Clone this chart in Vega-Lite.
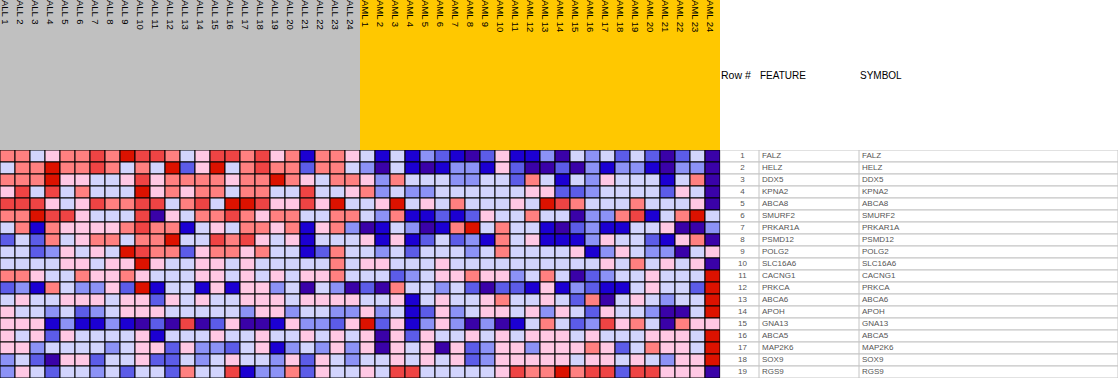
{
"$schema": "https://vega.github.io/schema/vega-lite/v6.json",
"padding": 0,
"background": "white",
"config": {"view": {"stroke": null}, "concat": {"spacing": 0}},
"resolve": {"scale": {"color": "independent", "x": "independent", "y": "independent"}},
"datasets": {
"samples": [
{"s":1,"n":"ALL 1","k":"ALL"},{"s":2,"n":"ALL 2","k":"ALL"},{"s":3,"n":"ALL 3","k":"ALL"},{"s":4,"n":"ALL 4","k":"ALL"},{"s":5,"n":"ALL 5","k":"ALL"},{"s":6,"n":"ALL 6","k":"ALL"},{"s":7,"n":"ALL 7","k":"ALL"},{"s":8,"n":"ALL 8","k":"ALL"},{"s":9,"n":"ALL 9","k":"ALL"},{"s":10,"n":"ALL 10","k":"ALL"},{"s":11,"n":"ALL 11","k":"ALL"},{"s":12,"n":"ALL 12","k":"ALL"},{"s":13,"n":"ALL 13","k":"ALL"},{"s":14,"n":"ALL 14","k":"ALL"},{"s":15,"n":"ALL 15","k":"ALL"},{"s":16,"n":"ALL 16","k":"ALL"},{"s":17,"n":"ALL 17","k":"ALL"},{"s":18,"n":"ALL 18","k":"ALL"},{"s":19,"n":"ALL 19","k":"ALL"},{"s":20,"n":"ALL 20","k":"ALL"},{"s":21,"n":"ALL 21","k":"ALL"},{"s":22,"n":"ALL 22","k":"ALL"},{"s":23,"n":"ALL 23","k":"ALL"},{"s":24,"n":"ALL 24","k":"ALL"},
{"s":25,"n":"AML 1","k":"AML"},{"s":26,"n":"AML 2","k":"AML"},{"s":27,"n":"AML 3","k":"AML"},{"s":28,"n":"AML 4","k":"AML"},{"s":29,"n":"AML 5","k":"AML"},{"s":30,"n":"AML 6","k":"AML"},{"s":31,"n":"AML 7","k":"AML"},{"s":32,"n":"AML 8","k":"AML"},{"s":33,"n":"AML 9","k":"AML"},{"s":34,"n":"AML 10","k":"AML"},{"s":35,"n":"AML 11","k":"AML"},{"s":36,"n":"AML 12","k":"AML"},{"s":37,"n":"AML 13","k":"AML"},{"s":38,"n":"AML 14","k":"AML"},{"s":39,"n":"AML 15","k":"AML"},{"s":40,"n":"AML 16","k":"AML"},{"s":41,"n":"AML 17","k":"AML"},{"s":42,"n":"AML 18","k":"AML"},{"s":43,"n":"AML 19","k":"AML"},{"s":44,"n":"AML 20","k":"AML"},{"s":45,"n":"AML 21","k":"AML"},{"s":46,"n":"AML 22","k":"AML"},{"s":47,"n":"AML 23","k":"AML"},{"s":48,"n":"AML 24","k":"AML"}
],
"genes": [
{"r":1,"f":"FALZ","y":"FALZ"},{"r":2,"f":"HELZ","y":"HELZ"},{"r":3,"f":"DDX5","y":"DDX5"},{"r":4,"f":"KPNA2","y":"KPNA2"},{"r":5,"f":"ABCA8","y":"ABCA8"},{"r":6,"f":"SMURF2","y":"SMURF2"},{"r":7,"f":"PRKAR1A","y":"PRKAR1A"},{"r":8,"f":"PSMD12","y":"PSMD12"},{"r":9,"f":"POLG2","y":"POLG2"},{"r":10,"f":"SLC16A6","y":"SLC16A6"},{"r":11,"f":"CACNG1","y":"CACNG1"},{"r":12,"f":"PRKCA","y":"PRKCA"},{"r":13,"f":"ABCA6","y":"ABCA6"},{"r":14,"f":"APOH","y":"APOH"},{"r":15,"f":"GNA13","y":"GNA13"},{"r":16,"f":"ABCA5","y":"ABCA5"},{"r":17,"f":"MAP2K6","y":"MAP2K6"},{"r":18,"f":"SOX9","y":"SOX9"},{"r":19,"f":"RGS9","y":"RGS9"}
],
"cells": [
{"s":1,"r":1,"v":2},{"s":2,"r":1,"v":2},{"s":3,"r":1,"v":0},{"s":4,"r":1,"v":1},{"s":5,"r":1,"v":2},{"s":6,"r":1,"v":2},{"s":7,"r":1,"v":3},{"s":8,"r":1,"v":2},{"s":9,"r":1,"v":4},{"s":10,"r":1,"v":3},{"s":11,"r":1,"v":3},{"s":12,"r":1,"v":2},{"s":13,"r":1,"v":0},{"s":14,"r":1,"v":1},{"s":15,"r":1,"v":3},{"s":16,"r":1,"v":3},{"s":17,"r":1,"v":2},{"s":18,"r":1,"v":3},{"s":19,"r":1,"v":1},{"s":20,"r":1,"v":2},{"s":21,"r":1,"v":-3},{"s":22,"r":1,"v":2},{"s":23,"r":1,"v":2},{"s":24,"r":1,"v":1},{"s":25,"r":1,"v":0},{"s":26,"r":1,"v":-3},{"s":27,"r":1,"v":0},{"s":28,"r":1,"v":-3},{"s":29,"r":1,"v":-1},{"s":30,"r":1,"v":-2},{"s":31,"r":1,"v":-3},{"s":32,"r":1,"v":-4},{"s":33,"r":1,"v":-2},{"s":34,"r":1,"v":1},{"s":35,"r":1,"v":-3},{"s":36,"r":1,"v":-3},{"s":37,"r":1,"v":-1},{"s":38,"r":1,"v":-4},{"s":39,"r":1,"v":0},{"s":40,"r":1,"v":-1},{"s":41,"r":1,"v":0},{"s":42,"r":1,"v":-2},{"s":43,"r":1,"v":0},{"s":44,"r":1,"v":-2},{"s":45,"r":1,"v":-4},{"s":46,"r":1,"v":-2},{"s":47,"r":1,"v":0},{"s":48,"r":1,"v":-4},
{"s":1,"r":2,"v":0},{"s":2,"r":2,"v":2},{"s":3,"r":2,"v":2},{"s":4,"r":2,"v":4},{"s":5,"r":2,"v":2},{"s":6,"r":2,"v":2},{"s":7,"r":2,"v":3},{"s":8,"r":2,"v":2},{"s":9,"r":2,"v":0},{"s":10,"r":2,"v":2},{"s":11,"r":2,"v":0},{"s":12,"r":2,"v":4},{"s":13,"r":2,"v":-2},{"s":14,"r":2,"v":1},{"s":15,"r":2,"v":4},{"s":16,"r":2,"v":0},{"s":17,"r":2,"v":2},{"s":18,"r":2,"v":3},{"s":19,"r":2,"v":2},{"s":20,"r":2,"v":2},{"s":21,"r":2,"v":-2},{"s":22,"r":2,"v":2},{"s":23,"r":2,"v":2},{"s":24,"r":2,"v":0},{"s":25,"r":2,"v":-1},{"s":26,"r":2,"v":-4},{"s":27,"r":2,"v":0},{"s":28,"r":2,"v":-3},{"s":29,"r":2,"v":-4},{"s":30,"r":2,"v":-3},{"s":31,"r":2,"v":-1},{"s":32,"r":2,"v":-1},{"s":33,"r":2,"v":-3},{"s":34,"r":2,"v":1},{"s":35,"r":2,"v":-2},{"s":36,"r":2,"v":-4},{"s":37,"r":2,"v":-4},{"s":38,"r":2,"v":-2},{"s":39,"r":2,"v":-4},{"s":40,"r":2,"v":-1},{"s":41,"r":2,"v":-3},{"s":42,"r":2,"v":-1},{"s":43,"r":2,"v":-1},{"s":44,"r":2,"v":-3},{"s":45,"r":2,"v":-4},{"s":46,"r":2,"v":-1},{"s":47,"r":2,"v":-1},{"s":48,"r":2,"v":-4},
{"s":1,"r":3,"v":2},{"s":2,"r":3,"v":2},{"s":3,"r":3,"v":2},{"s":4,"r":3,"v":4},{"s":5,"r":3,"v":1},{"s":6,"r":3,"v":1},{"s":7,"r":3,"v":0},{"s":8,"r":3,"v":0},{"s":9,"r":3,"v":1},{"s":10,"r":3,"v":3},{"s":11,"r":3,"v":1},{"s":12,"r":3,"v":2},{"s":13,"r":3,"v":2},{"s":14,"r":3,"v":2},{"s":15,"r":3,"v":2},{"s":16,"r":3,"v":1},{"s":17,"r":3,"v":2},{"s":18,"r":3,"v":2},{"s":19,"r":3,"v":4},{"s":20,"r":3,"v":2},{"s":21,"r":3,"v":1},{"s":22,"r":3,"v":0},{"s":23,"r":3,"v":2},{"s":24,"r":3,"v":2},{"s":25,"r":3,"v":1},{"s":26,"r":3,"v":-1},{"s":27,"r":3,"v":2},{"s":28,"r":3,"v":0},{"s":29,"r":3,"v":0},{"s":30,"r":3,"v":0},{"s":31,"r":3,"v":-1},{"s":32,"r":3,"v":-1},{"s":33,"r":3,"v":0},{"s":34,"r":3,"v":0},{"s":35,"r":3,"v":-2},{"s":36,"r":3,"v":2},{"s":37,"r":3,"v":0},{"s":38,"r":3,"v":-3},{"s":39,"r":3,"v":0},{"s":40,"r":3,"v":-1},{"s":41,"r":3,"v":1},{"s":42,"r":3,"v":0},{"s":43,"r":3,"v":0},{"s":44,"r":3,"v":0},{"s":45,"r":3,"v":-3},{"s":46,"r":3,"v":0},{"s":47,"r":3,"v":2},{"s":48,"r":3,"v":-4},
{"s":1,"r":4,"v":1},{"s":2,"r":4,"v":3},{"s":3,"r":4,"v":0},{"s":4,"r":4,"v":3},{"s":5,"r":4,"v":0},{"s":6,"r":4,"v":2},{"s":7,"r":4,"v":0},{"s":8,"r":4,"v":0},{"s":9,"r":4,"v":0},{"s":10,"r":4,"v":4},{"s":11,"r":4,"v":1},{"s":12,"r":4,"v":2},{"s":13,"r":4,"v":1},{"s":14,"r":4,"v":2},{"s":15,"r":4,"v":2},{"s":16,"r":4,"v":0},{"s":17,"r":4,"v":2},{"s":18,"r":4,"v":2},{"s":19,"r":4,"v":0},{"s":20,"r":4,"v":0},{"s":21,"r":4,"v":3},{"s":22,"r":4,"v":0},{"s":23,"r":4,"v":0},{"s":24,"r":4,"v":1},{"s":25,"r":4,"v":2},{"s":26,"r":4,"v":-1},{"s":27,"r":4,"v":0},{"s":28,"r":4,"v":-1},{"s":29,"r":4,"v":-1},{"s":30,"r":4,"v":0},{"s":31,"r":4,"v":0},{"s":32,"r":4,"v":0},{"s":33,"r":4,"v":0},{"s":34,"r":4,"v":0},{"s":35,"r":4,"v":0},{"s":36,"r":4,"v":1},{"s":37,"r":4,"v":1},{"s":38,"r":4,"v":-2},{"s":39,"r":4,"v":-2},{"s":40,"r":4,"v":-1},{"s":41,"r":4,"v":0},{"s":42,"r":4,"v":0},{"s":43,"r":4,"v":0},{"s":44,"r":4,"v":0},{"s":45,"r":4,"v":-2},{"s":46,"r":4,"v":1},{"s":47,"r":4,"v":0},{"s":48,"r":4,"v":-4},
{"s":1,"r":5,"v":3},{"s":2,"r":5,"v":3},{"s":3,"r":5,"v":3},{"s":4,"r":5,"v":1},{"s":5,"r":5,"v":0},{"s":6,"r":5,"v":1},{"s":7,"r":5,"v":3},{"s":8,"r":5,"v":2},{"s":9,"r":5,"v":2},{"s":10,"r":5,"v":3},{"s":11,"r":5,"v":3},{"s":12,"r":5,"v":0},{"s":13,"r":5,"v":2},{"s":14,"r":5,"v":3},{"s":15,"r":5,"v":0},{"s":16,"r":5,"v":4},{"s":17,"r":5,"v":4},{"s":18,"r":5,"v":3},{"s":19,"r":5,"v":1},{"s":20,"r":5,"v":1},{"s":21,"r":5,"v":3},{"s":22,"r":5,"v":1},{"s":23,"r":5,"v":4},{"s":24,"r":5,"v":0},{"s":25,"r":5,"v":0},{"s":26,"r":5,"v":1},{"s":27,"r":5,"v":4},{"s":28,"r":5,"v":0},{"s":29,"r":5,"v":1},{"s":30,"r":5,"v":0},{"s":31,"r":5,"v":2},{"s":32,"r":5,"v":0},{"s":33,"r":5,"v":0},{"s":34,"r":5,"v":0},{"s":35,"r":5,"v":1},{"s":36,"r":5,"v":0},{"s":37,"r":5,"v":4},{"s":38,"r":5,"v":3},{"s":39,"r":5,"v":2},{"s":40,"r":5,"v":0},{"s":41,"r":5,"v":0},{"s":42,"r":5,"v":0},{"s":43,"r":5,"v":2},{"s":44,"r":5,"v":0},{"s":45,"r":5,"v":0},{"s":46,"r":5,"v":0},{"s":47,"r":5,"v":1},{"s":48,"r":5,"v":-4},
{"s":1,"r":6,"v":2},{"s":2,"r":6,"v":2},{"s":3,"r":6,"v":4},{"s":4,"r":6,"v":3},{"s":5,"r":6,"v":3},{"s":6,"r":6,"v":1},{"s":7,"r":6,"v":0},{"s":8,"r":6,"v":0},{"s":9,"r":6,"v":0},{"s":10,"r":6,"v":3},{"s":11,"r":6,"v":-4},{"s":12,"r":6,"v":1},{"s":13,"r":6,"v":0},{"s":14,"r":6,"v":2},{"s":15,"r":6,"v":2},{"s":16,"r":6,"v":3},{"s":17,"r":6,"v":2},{"s":18,"r":6,"v":1},{"s":19,"r":6,"v":2},{"s":20,"r":6,"v":2},{"s":21,"r":6,"v":0},{"s":22,"r":6,"v":0},{"s":23,"r":6,"v":2},{"s":24,"r":6,"v":2},{"s":25,"r":6,"v":0},{"s":26,"r":6,"v":-1},{"s":27,"r":6,"v":2},{"s":28,"r":6,"v":-3},{"s":29,"r":6,"v":-3},{"s":30,"r":6,"v":-2},{"s":31,"r":6,"v":-3},{"s":32,"r":6,"v":-2},{"s":33,"r":6,"v":1},{"s":34,"r":6,"v":0},{"s":35,"r":6,"v":0},{"s":36,"r":6,"v":2},{"s":37,"r":6,"v":0},{"s":38,"r":6,"v":0},{"s":39,"r":6,"v":-4},{"s":40,"r":6,"v":-1},{"s":41,"r":6,"v":-1},{"s":42,"r":6,"v":2},{"s":43,"r":6,"v":3},{"s":44,"r":6,"v":-3},{"s":45,"r":6,"v":0},{"s":46,"r":6,"v":2},{"s":47,"r":6,"v":4},{"s":48,"r":6,"v":0},
{"s":1,"r":7,"v":0},{"s":2,"r":7,"v":2},{"s":3,"r":7,"v":-3},{"s":4,"r":7,"v":2},{"s":5,"r":7,"v":1},{"s":6,"r":7,"v":1},{"s":7,"r":7,"v":1},{"s":8,"r":7,"v":1},{"s":9,"r":7,"v":2},{"s":10,"r":7,"v":3},{"s":11,"r":7,"v":2},{"s":12,"r":7,"v":2},{"s":13,"r":7,"v":-3},{"s":14,"r":7,"v":0},{"s":15,"r":7,"v":1},{"s":16,"r":7,"v":0},{"s":17,"r":7,"v":2},{"s":18,"r":7,"v":2},{"s":19,"r":7,"v":1},{"s":20,"r":7,"v":2},{"s":21,"r":7,"v":-3},{"s":22,"r":7,"v":1},{"s":23,"r":7,"v":2},{"s":24,"r":7,"v":-1},{"s":25,"r":7,"v":-4},{"s":26,"r":7,"v":-3},{"s":27,"r":7,"v":0},{"s":28,"r":7,"v":-1},{"s":29,"r":7,"v":-4},{"s":30,"r":7,"v":-3},{"s":31,"r":7,"v":2},{"s":32,"r":7,"v":4},{"s":33,"r":7,"v":0},{"s":34,"r":7,"v":2},{"s":35,"r":7,"v":0},{"s":36,"r":7,"v":0},{"s":37,"r":7,"v":-3},{"s":38,"r":7,"v":-4},{"s":39,"r":7,"v":-2},{"s":40,"r":7,"v":-1},{"s":41,"r":7,"v":-3},{"s":42,"r":7,"v":-3},{"s":43,"r":7,"v":0},{"s":44,"r":7,"v":0},{"s":45,"r":7,"v":1},{"s":46,"r":7,"v":-4},{"s":47,"r":7,"v":-4},{"s":48,"r":7,"v":-1},
{"s":1,"r":8,"v":-2},{"s":2,"r":8,"v":0},{"s":3,"r":8,"v":-2},{"s":4,"r":8,"v":2},{"s":5,"r":8,"v":0},{"s":6,"r":8,"v":1},{"s":7,"r":8,"v":2},{"s":8,"r":8,"v":2},{"s":9,"r":8,"v":0},{"s":10,"r":8,"v":2},{"s":11,"r":8,"v":2},{"s":12,"r":8,"v":4},{"s":13,"r":8,"v":0},{"s":14,"r":8,"v":0},{"s":15,"r":8,"v":3},{"s":16,"r":8,"v":2},{"s":17,"r":8,"v":3},{"s":18,"r":8,"v":1},{"s":19,"r":8,"v":0},{"s":20,"r":8,"v":1},{"s":21,"r":8,"v":-3},{"s":22,"r":8,"v":0},{"s":23,"r":8,"v":0},{"s":24,"r":8,"v":0},{"s":25,"r":8,"v":1},{"s":26,"r":8,"v":-3},{"s":27,"r":8,"v":1},{"s":28,"r":8,"v":-3},{"s":29,"r":8,"v":-2},{"s":30,"r":8,"v":0},{"s":31,"r":8,"v":-2},{"s":32,"r":8,"v":-1},{"s":33,"r":8,"v":-3},{"s":34,"r":8,"v":2},{"s":35,"r":8,"v":0},{"s":36,"r":8,"v":1},{"s":37,"r":8,"v":-3},{"s":38,"r":8,"v":-3},{"s":39,"r":8,"v":-3},{"s":40,"r":8,"v":-1},{"s":41,"r":8,"v":1},{"s":42,"r":8,"v":0},{"s":43,"r":8,"v":0},{"s":44,"r":8,"v":-2},{"s":45,"r":8,"v":-3},{"s":46,"r":8,"v":1},{"s":47,"r":8,"v":2},{"s":48,"r":8,"v":-4},
{"s":1,"r":9,"v":0},{"s":2,"r":9,"v":0},{"s":3,"r":9,"v":-2},{"s":4,"r":9,"v":-1},{"s":5,"r":9,"v":1},{"s":6,"r":9,"v":0},{"s":7,"r":9,"v":1},{"s":8,"r":9,"v":0},{"s":9,"r":9,"v":4},{"s":10,"r":9,"v":3},{"s":11,"r":9,"v":2},{"s":12,"r":9,"v":2},{"s":13,"r":9,"v":-2},{"s":14,"r":9,"v":1},{"s":15,"r":9,"v":2},{"s":16,"r":9,"v":2},{"s":17,"r":9,"v":1},{"s":18,"r":9,"v":2},{"s":19,"r":9,"v":0},{"s":20,"r":9,"v":0},{"s":21,"r":9,"v":-3},{"s":22,"r":9,"v":-2},{"s":23,"r":9,"v":2},{"s":24,"r":9,"v":0},{"s":25,"r":9,"v":0},{"s":26,"r":9,"v":-1},{"s":27,"r":9,"v":0},{"s":28,"r":9,"v":-2},{"s":29,"r":9,"v":0},{"s":30,"r":9,"v":0},{"s":31,"r":9,"v":0},{"s":32,"r":9,"v":-1},{"s":33,"r":9,"v":0},{"s":34,"r":9,"v":2},{"s":35,"r":9,"v":0},{"s":36,"r":9,"v":0},{"s":37,"r":9,"v":0},{"s":38,"r":9,"v":0},{"s":39,"r":9,"v":1},{"s":40,"r":9,"v":-3},{"s":41,"r":9,"v":-1},{"s":42,"r":9,"v":1},{"s":43,"r":9,"v":0},{"s":44,"r":9,"v":-1},{"s":45,"r":9,"v":-1},{"s":46,"r":9,"v":-4},{"s":47,"r":9,"v":0},{"s":48,"r":9,"v":1},
{"s":1,"r":10,"v":0},{"s":2,"r":10,"v":0},{"s":3,"r":10,"v":0},{"s":4,"r":10,"v":0},{"s":5,"r":10,"v":1},{"s":6,"r":10,"v":1},{"s":7,"r":10,"v":0},{"s":8,"r":10,"v":1},{"s":9,"r":10,"v":1},{"s":10,"r":10,"v":4},{"s":11,"r":10,"v":1},{"s":12,"r":10,"v":0},{"s":13,"r":10,"v":0},{"s":14,"r":10,"v":1},{"s":15,"r":10,"v":1},{"s":16,"r":10,"v":0},{"s":17,"r":10,"v":1},{"s":18,"r":10,"v":0},{"s":19,"r":10,"v":0},{"s":20,"r":10,"v":0},{"s":21,"r":10,"v":0},{"s":22,"r":10,"v":0},{"s":23,"r":10,"v":2},{"s":24,"r":10,"v":0},{"s":25,"r":10,"v":1},{"s":26,"r":10,"v":1},{"s":27,"r":10,"v":0},{"s":28,"r":10,"v":0},{"s":29,"r":10,"v":0},{"s":30,"r":10,"v":1},{"s":31,"r":10,"v":0},{"s":32,"r":10,"v":0},{"s":33,"r":10,"v":0},{"s":34,"r":10,"v":0},{"s":35,"r":10,"v":0},{"s":36,"r":10,"v":0},{"s":37,"r":10,"v":0},{"s":38,"r":10,"v":0},{"s":39,"r":10,"v":0},{"s":40,"r":10,"v":0},{"s":41,"r":10,"v":1},{"s":42,"r":10,"v":0},{"s":43,"r":10,"v":2},{"s":44,"r":10,"v":0},{"s":45,"r":10,"v":1},{"s":46,"r":10,"v":0},{"s":47,"r":10,"v":1},{"s":48,"r":10,"v":-4},
{"s":1,"r":11,"v":2},{"s":2,"r":11,"v":2},{"s":3,"r":11,"v":1},{"s":4,"r":11,"v":0},{"s":5,"r":11,"v":0},{"s":6,"r":11,"v":2},{"s":7,"r":11,"v":1},{"s":8,"r":11,"v":1},{"s":9,"r":11,"v":2},{"s":10,"r":11,"v":1},{"s":11,"r":11,"v":0},{"s":12,"r":11,"v":0},{"s":13,"r":11,"v":0},{"s":14,"r":11,"v":1},{"s":15,"r":11,"v":1},{"s":16,"r":11,"v":0},{"s":17,"r":11,"v":1},{"s":18,"r":11,"v":0},{"s":19,"r":11,"v":1},{"s":20,"r":11,"v":0},{"s":21,"r":11,"v":1},{"s":22,"r":11,"v":1},{"s":23,"r":11,"v":2},{"s":24,"r":11,"v":0},{"s":25,"r":11,"v":0},{"s":26,"r":11,"v":0},{"s":27,"r":11,"v":-2},{"s":28,"r":11,"v":-1},{"s":29,"r":11,"v":0},{"s":30,"r":11,"v":1},{"s":31,"r":11,"v":1},{"s":32,"r":11,"v":2},{"s":33,"r":11,"v":1},{"s":34,"r":11,"v":1},{"s":35,"r":11,"v":-1},{"s":36,"r":11,"v":0},{"s":37,"r":11,"v":2},{"s":38,"r":11,"v":0},{"s":39,"r":11,"v":-4},{"s":40,"r":11,"v":-2},{"s":41,"r":11,"v":-1},{"s":42,"r":11,"v":0},{"s":43,"r":11,"v":0},{"s":44,"r":11,"v":1},{"s":45,"r":11,"v":0},{"s":46,"r":11,"v":0},{"s":47,"r":11,"v":0},{"s":48,"r":11,"v":4},
{"s":1,"r":12,"v":-2},{"s":2,"r":12,"v":-1},{"s":3,"r":12,"v":-3},{"s":4,"r":12,"v":2},{"s":5,"r":12,"v":0},{"s":6,"r":12,"v":-1},{"s":7,"r":12,"v":-1},{"s":8,"r":12,"v":1},{"s":9,"r":12,"v":-2},{"s":10,"r":12,"v":4},{"s":11,"r":12,"v":-3},{"s":12,"r":12,"v":0},{"s":13,"r":12,"v":0},{"s":14,"r":12,"v":-3},{"s":15,"r":12,"v":1},{"s":16,"r":12,"v":-3},{"s":17,"r":12,"v":1},{"s":18,"r":12,"v":1},{"s":19,"r":12,"v":-1},{"s":20,"r":12,"v":0},{"s":21,"r":12,"v":-4},{"s":22,"r":12,"v":0},{"s":23,"r":12,"v":-1},{"s":24,"r":12,"v":-4},{"s":25,"r":12,"v":-2},{"s":26,"r":12,"v":-4},{"s":27,"r":12,"v":2},{"s":28,"r":12,"v":0},{"s":29,"r":12,"v":0},{"s":30,"r":12,"v":-1},{"s":31,"r":12,"v":0},{"s":32,"r":12,"v":-2},{"s":33,"r":12,"v":-4},{"s":34,"r":12,"v":-2},{"s":35,"r":12,"v":-2},{"s":36,"r":12,"v":-3},{"s":37,"r":12,"v":1},{"s":38,"r":12,"v":-3},{"s":39,"r":12,"v":-1},{"s":40,"r":12,"v":-2},{"s":41,"r":12,"v":-3},{"s":42,"r":12,"v":-3},{"s":43,"r":12,"v":0},{"s":44,"r":12,"v":1},{"s":45,"r":12,"v":0},{"s":46,"r":12,"v":0},{"s":47,"r":12,"v":-2},{"s":48,"r":12,"v":4},
{"s":1,"r":13,"v":0},{"s":2,"r":13,"v":1},{"s":3,"r":13,"v":0},{"s":4,"r":13,"v":0},{"s":5,"r":13,"v":1},{"s":6,"r":13,"v":1},{"s":7,"r":13,"v":1},{"s":8,"r":13,"v":0},{"s":9,"r":13,"v":1},{"s":10,"r":13,"v":1},{"s":11,"r":13,"v":-2},{"s":12,"r":13,"v":1},{"s":13,"r":13,"v":0},{"s":14,"r":13,"v":1},{"s":15,"r":13,"v":0},{"s":16,"r":13,"v":0},{"s":17,"r":13,"v":1},{"s":18,"r":13,"v":1},{"s":19,"r":13,"v":1},{"s":20,"r":13,"v":0},{"s":21,"r":13,"v":1},{"s":22,"r":13,"v":1},{"s":23,"r":13,"v":1},{"s":24,"r":13,"v":1},{"s":25,"r":13,"v":0},{"s":26,"r":13,"v":0},{"s":27,"r":13,"v":1},{"s":28,"r":13,"v":-3},{"s":29,"r":13,"v":0},{"s":30,"r":13,"v":1},{"s":31,"r":13,"v":0},{"s":32,"r":13,"v":0},{"s":33,"r":13,"v":1},{"s":34,"r":13,"v":2},{"s":35,"r":13,"v":0},{"s":36,"r":13,"v":0},{"s":37,"r":13,"v":1},{"s":38,"r":13,"v":0},{"s":39,"r":13,"v":-2},{"s":40,"r":13,"v":2},{"s":41,"r":13,"v":-4},{"s":42,"r":13,"v":0},{"s":43,"r":13,"v":1},{"s":44,"r":13,"v":0},{"s":45,"r":13,"v":-1},{"s":46,"r":13,"v":0},{"s":47,"r":13,"v":0},{"s":48,"r":13,"v":4},
{"s":1,"r":14,"v":1},{"s":2,"r":14,"v":0},{"s":3,"r":14,"v":0},{"s":4,"r":14,"v":-1},{"s":5,"r":14,"v":0},{"s":6,"r":14,"v":-2},{"s":7,"r":14,"v":-1},{"s":8,"r":14,"v":0},{"s":9,"r":14,"v":1},{"s":10,"r":14,"v":1},{"s":11,"r":14,"v":1},{"s":12,"r":14,"v":0},{"s":13,"r":14,"v":0},{"s":14,"r":14,"v":0},{"s":15,"r":14,"v":0},{"s":16,"r":14,"v":0},{"s":17,"r":14,"v":-1},{"s":18,"r":14,"v":1},{"s":19,"r":14,"v":1},{"s":20,"r":14,"v":-1},{"s":21,"r":14,"v":0},{"s":22,"r":14,"v":0},{"s":23,"r":14,"v":-1},{"s":24,"r":14,"v":-1},{"s":25,"r":14,"v":1},{"s":26,"r":14,"v":-1},{"s":27,"r":14,"v":0},{"s":28,"r":14,"v":-3},{"s":29,"r":14,"v":-2},{"s":30,"r":14,"v":1},{"s":31,"r":14,"v":-1},{"s":32,"r":14,"v":0},{"s":33,"r":14,"v":1},{"s":34,"r":14,"v":1},{"s":35,"r":14,"v":0},{"s":36,"r":14,"v":1},{"s":37,"r":14,"v":-1},{"s":38,"r":14,"v":1},{"s":39,"r":14,"v":0},{"s":40,"r":14,"v":-2},{"s":41,"r":14,"v":1},{"s":42,"r":14,"v":0},{"s":43,"r":14,"v":0},{"s":44,"r":14,"v":-1},{"s":45,"r":14,"v":-4},{"s":46,"r":14,"v":-4},{"s":47,"r":14,"v":0},{"s":48,"r":14,"v":4},
{"s":1,"r":15,"v":1},{"s":2,"r":15,"v":1},{"s":3,"r":15,"v":1},{"s":4,"r":15,"v":-3},{"s":5,"r":15,"v":-1},{"s":6,"r":15,"v":-3},{"s":7,"r":15,"v":-3},{"s":8,"r":15,"v":-1},{"s":9,"r":15,"v":-3},{"s":10,"r":15,"v":-4},{"s":11,"r":15,"v":-2},{"s":12,"r":15,"v":-4},{"s":13,"r":15,"v":3},{"s":14,"r":15,"v":-4},{"s":15,"r":15,"v":-2},{"s":16,"r":15,"v":1},{"s":17,"r":15,"v":-4},{"s":18,"r":15,"v":-4},{"s":19,"r":15,"v":-3},{"s":20,"r":15,"v":1},{"s":21,"r":15,"v":-1},{"s":22,"r":15,"v":-1},{"s":23,"r":15,"v":-2},{"s":24,"r":15,"v":1},{"s":25,"r":15,"v":4},{"s":26,"r":15,"v":-2},{"s":27,"r":15,"v":1},{"s":28,"r":15,"v":-3},{"s":29,"r":15,"v":-1},{"s":30,"r":15,"v":1},{"s":31,"r":15,"v":-1},{"s":32,"r":15,"v":-4},{"s":33,"r":15,"v":-1},{"s":34,"r":15,"v":-4},{"s":35,"r":15,"v":-3},{"s":36,"r":15,"v":0},{"s":37,"r":15,"v":2},{"s":38,"r":15,"v":0},{"s":39,"r":15,"v":-2},{"s":40,"r":15,"v":-1},{"s":41,"r":15,"v":3},{"s":42,"r":15,"v":1},{"s":43,"r":15,"v":2},{"s":44,"r":15,"v":0},{"s":45,"r":15,"v":-4},{"s":46,"r":15,"v":2},{"s":47,"r":15,"v":1},{"s":48,"r":15,"v":1},
{"s":1,"r":16,"v":1},{"s":2,"r":16,"v":0},{"s":3,"r":16,"v":1},{"s":4,"r":16,"v":-2},{"s":5,"r":16,"v":1},{"s":6,"r":16,"v":0},{"s":7,"r":16,"v":0},{"s":8,"r":16,"v":0},{"s":9,"r":16,"v":0},{"s":10,"r":16,"v":1},{"s":11,"r":16,"v":-3},{"s":12,"r":16,"v":0},{"s":13,"r":16,"v":0},{"s":14,"r":16,"v":0},{"s":15,"r":16,"v":1},{"s":16,"r":16,"v":0},{"s":17,"r":16,"v":0},{"s":18,"r":16,"v":1},{"s":19,"r":16,"v":0},{"s":20,"r":16,"v":0},{"s":21,"r":16,"v":1},{"s":22,"r":16,"v":0},{"s":23,"r":16,"v":1},{"s":24,"r":16,"v":0},{"s":25,"r":16,"v":1},{"s":26,"r":16,"v":-4},{"s":27,"r":16,"v":1},{"s":28,"r":16,"v":-2},{"s":29,"r":16,"v":1},{"s":30,"r":16,"v":0},{"s":31,"r":16,"v":0},{"s":32,"r":16,"v":1},{"s":33,"r":16,"v":0},{"s":34,"r":16,"v":1},{"s":35,"r":16,"v":0},{"s":36,"r":16,"v":1},{"s":37,"r":16,"v":1},{"s":38,"r":16,"v":1},{"s":39,"r":16,"v":0},{"s":40,"r":16,"v":1},{"s":41,"r":16,"v":0},{"s":42,"r":16,"v":0},{"s":43,"r":16,"v":0},{"s":44,"r":16,"v":1},{"s":45,"r":16,"v":1},{"s":46,"r":16,"v":1},{"s":47,"r":16,"v":0},{"s":48,"r":16,"v":4},
{"s":1,"r":17,"v":1},{"s":2,"r":17,"v":1},{"s":3,"r":17,"v":-1},{"s":4,"r":17,"v":0},{"s":5,"r":17,"v":0},{"s":6,"r":17,"v":0},{"s":7,"r":17,"v":0},{"s":8,"r":17,"v":-1},{"s":9,"r":17,"v":0},{"s":10,"r":17,"v":1},{"s":11,"r":17,"v":1},{"s":12,"r":17,"v":-2},{"s":13,"r":17,"v":1},{"s":14,"r":17,"v":-1},{"s":15,"r":17,"v":-1},{"s":16,"r":17,"v":-2},{"s":17,"r":17,"v":0},{"s":18,"r":17,"v":1},{"s":19,"r":17,"v":-3},{"s":20,"r":17,"v":-1},{"s":21,"r":17,"v":0},{"s":22,"r":17,"v":-1},{"s":23,"r":17,"v":1},{"s":24,"r":17,"v":-1},{"s":25,"r":17,"v":1},{"s":26,"r":17,"v":-4},{"s":27,"r":17,"v":1},{"s":28,"r":17,"v":0},{"s":29,"r":17,"v":1},{"s":30,"r":17,"v":-4},{"s":31,"r":17,"v":1},{"s":32,"r":17,"v":-2},{"s":33,"r":17,"v":-1},{"s":34,"r":17,"v":1},{"s":35,"r":17,"v":1},{"s":36,"r":17,"v":-1},{"s":37,"r":17,"v":1},{"s":38,"r":17,"v":1},{"s":39,"r":17,"v":1},{"s":40,"r":17,"v":2},{"s":41,"r":17,"v":1},{"s":42,"r":17,"v":-2},{"s":43,"r":17,"v":0},{"s":44,"r":17,"v":2},{"s":45,"r":17,"v":1},{"s":46,"r":17,"v":1},{"s":47,"r":17,"v":0},{"s":48,"r":17,"v":4},
{"s":1,"r":18,"v":-1},{"s":2,"r":18,"v":0},{"s":3,"r":18,"v":-2},{"s":4,"r":18,"v":-4},{"s":5,"r":18,"v":1},{"s":6,"r":18,"v":1},{"s":7,"r":18,"v":-2},{"s":8,"r":18,"v":0},{"s":9,"r":18,"v":0},{"s":10,"r":18,"v":1},{"s":11,"r":18,"v":-2},{"s":12,"r":18,"v":-2},{"s":13,"r":18,"v":0},{"s":14,"r":18,"v":-1},{"s":15,"r":18,"v":0},{"s":16,"r":18,"v":1},{"s":17,"r":18,"v":0},{"s":18,"r":18,"v":0},{"s":19,"r":18,"v":-1},{"s":20,"r":18,"v":1},{"s":21,"r":18,"v":-2},{"s":22,"r":18,"v":1},{"s":23,"r":18,"v":0},{"s":24,"r":18,"v":-1},{"s":25,"r":18,"v":0},{"s":26,"r":18,"v":0},{"s":27,"r":18,"v":1},{"s":28,"r":18,"v":0},{"s":29,"r":18,"v":1},{"s":30,"r":18,"v":0},{"s":31,"r":18,"v":1},{"s":32,"r":18,"v":-2},{"s":33,"r":18,"v":-1},{"s":34,"r":18,"v":1},{"s":35,"r":18,"v":1},{"s":36,"r":18,"v":1},{"s":37,"r":18,"v":1},{"s":38,"r":18,"v":1},{"s":39,"r":18,"v":0},{"s":40,"r":18,"v":1},{"s":41,"r":18,"v":1},{"s":42,"r":18,"v":0},{"s":43,"r":18,"v":1},{"s":44,"r":18,"v":0},{"s":45,"r":18,"v":-1},{"s":46,"r":18,"v":1},{"s":47,"r":18,"v":1},{"s":48,"r":18,"v":4},
{"s":1,"r":19,"v":-1},{"s":2,"r":19,"v":1},{"s":3,"r":19,"v":0},{"s":4,"r":19,"v":-2},{"s":5,"r":19,"v":0},{"s":6,"r":19,"v":0},{"s":7,"r":19,"v":-1},{"s":8,"r":19,"v":0},{"s":9,"r":19,"v":-2},{"s":10,"r":19,"v":0},{"s":11,"r":19,"v":0},{"s":12,"r":19,"v":-2},{"s":13,"r":19,"v":2},{"s":14,"r":19,"v":0},{"s":15,"r":19,"v":0},{"s":16,"r":19,"v":3},{"s":17,"r":19,"v":-3},{"s":18,"r":19,"v":-1},{"s":19,"r":19,"v":-1},{"s":20,"r":19,"v":2},{"s":21,"r":19,"v":-2},{"s":22,"r":19,"v":1},{"s":23,"r":19,"v":0},{"s":24,"r":19,"v":0},{"s":25,"r":19,"v":1},{"s":26,"r":19,"v":0},{"s":27,"r":19,"v":3},{"s":28,"r":19,"v":3},{"s":29,"r":19,"v":0},{"s":30,"r":19,"v":0},{"s":31,"r":19,"v":0},{"s":32,"r":19,"v":0},{"s":33,"r":19,"v":0},{"s":34,"r":19,"v":1},{"s":35,"r":19,"v":3},{"s":36,"r":19,"v":2},{"s":37,"r":19,"v":2},{"s":38,"r":19,"v":4},{"s":39,"r":19,"v":2},{"s":40,"r":19,"v":3},{"s":41,"r":19,"v":3},{"s":42,"r":19,"v":-2},{"s":43,"r":19,"v":3},{"s":44,"r":19,"v":3},{"s":45,"r":19,"v":1},{"s":46,"r":19,"v":1},{"s":47,"r":19,"v":1},{"s":48,"r":19,"v":-4}
]
},
"vconcat": [
{"hconcat": [
{"width": 720, "height": 150, "data": {"name": "samples"},
 "layer": [
  {"mark": {"type": "rect", "clip": true},
   "encoding": {
    "x": {"field": "s", "type": "ordinal", "scale": {"paddingInner": 0, "paddingOuter": 0}, "axis": null},
    "color": {"field": "k", "type": "nominal", "scale": {"domain": ["ALL", "AML"], "range": ["#c0c0c0", "#ffc800"]}, "legend": null}}},
  {"mark": {"type": "text", "clip": true, "angle": 90, "align": "left", "baseline": "alphabetic", "font": "Liberation Sans", "fontSize": 9.5, "color": "black", "dx": 0, "dy": -1.5},
   "encoding": {
    "x": {"field": "s", "type": "ordinal", "bandPosition": 0, "axis": null},
    "y": {"datum": 1, "type": "quantitative", "scale": {"domain": [0, 1]}, "axis": null},
    "text": {"field": "n"}}}
 ]},
{"width": 39, "height": 150, "data": {"values": [{"h": "Row #"}]},
 "mark": {"type": "text", "clip": true, "align": "left", "font": "Liberation Sans", "fontSize": 10.5, "color": "black", "dx": 1, "dy": 1},
 "encoding": {"x": {"datum": 0, "type": "quantitative", "scale": {"domain": [0, 1]}, "axis": null}, "text": {"field": "h"}}},
{"width": 100, "height": 150, "data": {"values": [{"h": "FEATURE"}]},
 "mark": {"type": "text", "clip": true, "align": "left", "font": "Liberation Sans", "fontSize": 10, "color": "black", "dx": 1, "dy": 1},
 "encoding": {"x": {"datum": 0, "type": "quantitative", "scale": {"domain": [0, 1]}, "axis": null}, "text": {"field": "h"}}},
{"width": 261, "height": 150, "data": {"values": [{"h": "SYMBOL"}]},
 "mark": {"type": "text", "clip": true, "align": "left", "font": "Liberation Sans", "fontSize": 10, "color": "black", "dx": 1, "dy": 1},
 "encoding": {"x": {"datum": 0, "type": "quantitative", "scale": {"domain": [0, 1]}, "axis": null}, "text": {"field": "h"}}}
],
 "resolve": {"scale": {"color": "independent", "x": "independent", "y": "independent"}}},
{"hconcat": [
{"width": 720, "height": 228, "data": {"name": "cells"},
 "mark": {"type": "rect", "clip": true, "stroke": "black", "strokeWidth": 1},
 "encoding": {
  "x": {"field": "s", "type": "ordinal", "scale": {"paddingInner": 0, "paddingOuter": 0}, "axis": null},
  "y": {"field": "r", "type": "ordinal", "scale": {"paddingInner": 0, "paddingOuter": 0}, "axis": null},
  "color": {"field": "v", "type": "ordinal", "scale": {"domain": [-4, -3, -2, -1, 0, 1, 2, 3, 4], "range": ["#3a02a8", "#1c00d2", "#5c5ce8", "#8c92f6", "#d2d4fd", "#ffc8e4", "#ff8080", "#ef4444", "#dc1200"]}, "legend": null}}},
{"width": 39, "height": 228, "data": {"name": "genes"},
 "layer": [
  {"mark": {"type": "rect", "clip": true, "fill": "white", "stroke": "#c4c4c4", "strokeWidth": 1},
   "encoding": {"y": {"field": "r", "type": "ordinal", "scale": {"paddingInner": 0, "paddingOuter": 0}, "axis": null}}},
  {"mark": {"type": "text", "clip": true, "font": "Liberation Sans", "fontSize": 8, "color": "#555555", "dx": 3},
   "encoding": {"y": {"field": "r", "type": "ordinal", "axis": null}, "text": {"field": "r"}}}
 ]},
{"width": 100, "height": 228, "data": {"name": "genes"},
 "layer": [
  {"mark": {"type": "rect", "clip": true, "fill": "white", "stroke": "#c4c4c4", "strokeWidth": 1},
   "encoding": {"y": {"field": "r", "type": "ordinal", "scale": {"paddingInner": 0, "paddingOuter": 0}, "axis": null}}},
  {"mark": {"type": "text", "clip": true, "align": "left", "font": "Liberation Sans", "fontSize": 8, "color": "#555555", "dx": 3},
   "encoding": {"y": {"field": "r", "type": "ordinal", "axis": null}, "x": {"datum": 0, "type": "quantitative", "scale": {"domain": [0, 1]}, "axis": null}, "text": {"field": "f"}}}
 ]},
{"width": 259, "height": 228, "data": {"name": "genes"},
 "layer": [
  {"mark": {"type": "rect", "clip": true, "fill": "white", "stroke": "#c4c4c4", "strokeWidth": 1},
   "encoding": {"y": {"field": "r", "type": "ordinal", "scale": {"paddingInner": 0, "paddingOuter": 0}, "axis": null}}},
  {"mark": {"type": "text", "clip": true, "align": "left", "font": "Liberation Sans", "fontSize": 8, "color": "#555555", "dx": 3},
   "encoding": {"y": {"field": "r", "type": "ordinal", "axis": null}, "x": {"datum": 0, "type": "quantitative", "scale": {"domain": [0, 1]}, "axis": null}, "text": {"field": "y"}}}
 ]}
],
 "resolve": {"scale": {"color": "independent", "x": "independent", "y": "independent"}}}
]
}
